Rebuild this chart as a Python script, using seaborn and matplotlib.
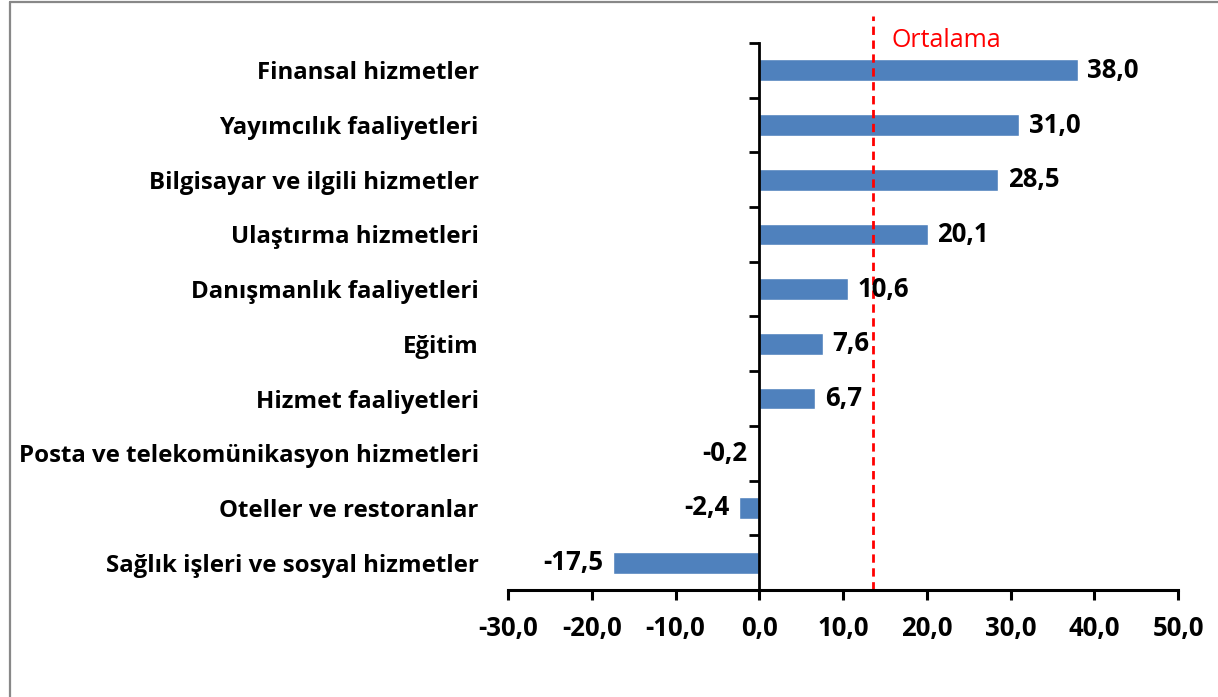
import numpy as np
import pandas as pd
import matplotlib
matplotlib.use("Agg")
import matplotlib.pyplot as plt
import seaborn as sns
from matplotlib.lines import Line2D
from matplotlib.ticker import FixedLocator

categories = [
    "Finansal hizmetler",
    "Yayımcılık faaliyetleri",
    "Bilgisayar ve ilgili hizmetler",
    "Ulaştırma hizmetleri",
    "Danışmanlık faaliyetleri",
    "Eğitim",
    "Hizmet faaliyetleri",
    "Posta ve telekomünikasyon hizmetleri",
    "Oteller ve restoranlar",
    "Sağlık işleri ve sosyal hizmetler",
]
values = [38.0, 31.0, 28.5, 20.1, 10.6, 7.6, 6.7, -0.2, -2.4, -17.5]
average = 13.6
x_ticks = [-30, -20, -10, 0, 10, 20, 30, 40, 50]

sns.set_theme(style="white")
plt.rcParams["font.family"] = ["Open Sans", "DejaVu Sans"]
plt.rcParams.update({
    "text.color": "black",
    "xtick.color": "black",
    "ytick.color": "black",
    "axes.labelcolor": "black",
})

df = pd.DataFrame({"kategori": categories, "deger": values})

fig = plt.figure(figsize=(12.18, 6.97), dpi=100)
ax = fig.add_axes([508 / 1218, 1 - 590 / 697, 670 / 1218, 547 / 697])

sns.barplot(data=df, x="deger", y="kategori", orient="h", color="#4F81BD",
            saturation=1, width=0.4, ax=ax)

ax.set_xlim(-30, 50)
ax.set_ylim(9.5, -0.5)
ax.set_xlabel("")
ax.set_ylabel("")

for s in ["top", "right"]:
    ax.spines[s].set_visible(False)
ax.spines["left"].set_position(("data", 0))
ax.spines["left"].set_color("black")
ax.spines["left"].set_linewidth(2.0)
ax.spines["bottom"].set_color("black")
ax.spines["bottom"].set_linewidth(2.2)

ax.xaxis.set_major_locator(FixedLocator(x_ticks))
ax.set_xticklabels([f"{t:.1f}".replace(".", ",") for t in x_ticks])
ax.tick_params(axis="x", direction="out", length=7, width=2.2, color="black",
               labelcolor="black", labelsize=18.5, pad=11, bottom=True)
for lbl in ax.get_xticklabels():
    lbl.set_fontweight("bold")

ax.yaxis.set_minor_locator(FixedLocator(np.arange(-0.5, 10, 1)))
ax.tick_params(axis="y", which="major", length=0, pad=202, labelsize=17.3,
               labelcolor="black", left=True)
ax.tick_params(axis="y", which="minor", direction="out", length=7, width=2.0,
               color="black", left=True)
for lbl in ax.get_yticklabels():
    lbl.set_fontweight("bold")

for i, v in enumerate(values):
    txt = f"{v:.1f}".replace(".", ",")
    if v >= 0:
        ax.annotate(txt, (v, i), xytext=(7, 0), textcoords="offset points",
                    ha="left", va="center", fontsize=18.5, fontweight="bold",
                    color="black")
    else:
        ax.annotate(txt, (v, i), xytext=(-7, 0), textcoords="offset points",
                    ha="right", va="center", fontsize=18.5, fontweight="bold",
                    color="black")

ax.axvline(average, ymin=0, ymax=1.05, color="#FF0000", linestyle=(0, (3, 2)),
           linewidth=2, clip_on=False)
ax.text(average + 2.2, -0.42, "Ortalama", color="#FF0000", fontsize=18,
        ha="left", va="baseline")

fig.add_artist(Line2D([10 / 1218, 10 / 1218], [0, 1 - 2 / 697], color="#888888",
                      linewidth=1.6, transform=fig.transFigure))
fig.add_artist(Line2D([10 / 1218, 1], [1 - 2 / 697, 1 - 2 / 697], color="#888888",
                      linewidth=1.6, transform=fig.transFigure))

fig.savefig("out.png", dpi=100)
